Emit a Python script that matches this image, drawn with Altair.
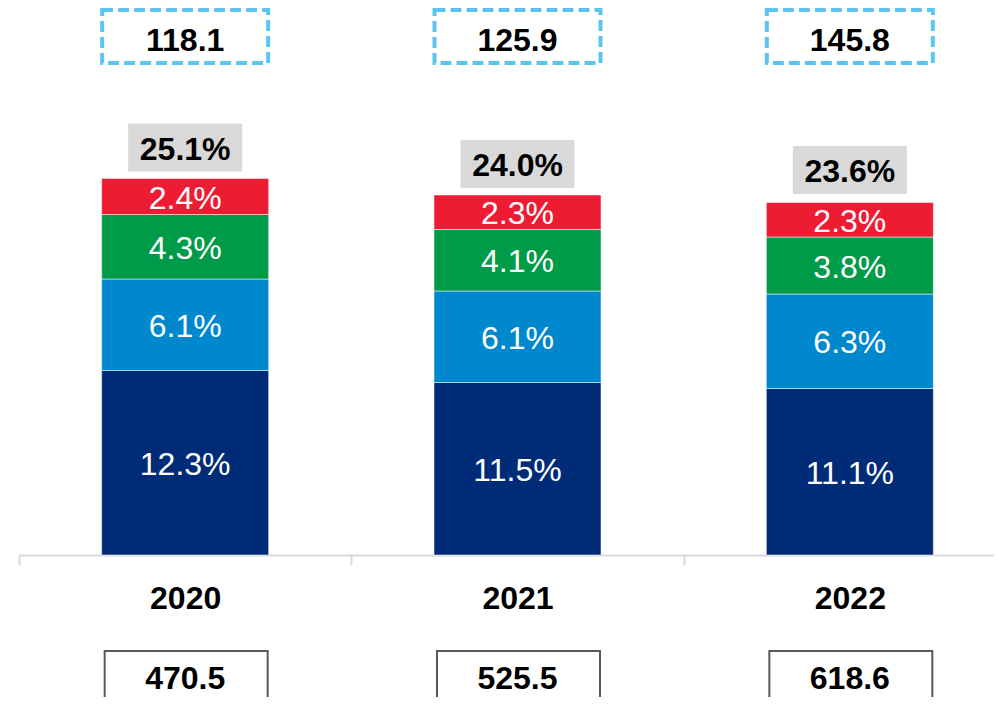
import altair as alt
import pandas as pd

years = ["2020", "2021", "2022"]
segments = ["s1", "s2", "s3", "s4"]  # bottom to top
seg_colors = ["#002C77", "#0088CE", "#009B48", "#EE1C33"]
vals_2020 = [12.3, 6.1, 4.3, 2.4]
vals_2021 = [11.5, 6.1, 4.1, 2.3]
vals_2022 = [11.1, 6.3, 3.8, 2.3]
totals = [25.1, 24.0, 23.6]
top_values = ["118.1", "125.9", "145.8"]
bottom_values = ["470.5", "525.5", "618.6"]

FONT = "Liberation Sans"

rows = []
for yr, vals in zip(years, [vals_2020, vals_2021, vals_2022]):
    base = 0.0
    for seg, v in zip(segments, vals):
        rows.append({"year": yr, "seg": seg, "v": v, "y0": base, "y1": base + v,
                     "mid": base + v / 2, "label": f"{v:.1f}%"})
        base += v
seg_df = pd.DataFrame(rows)

tot_df = pd.DataFrame({
    "year": years,
    "total": totals,
    "tlabel": [f"{t:.1f}%" for t in totals],
    "top": top_values,
    "bottom": bottom_values,
})

x_scale = alt.Scale(domain=years, range=[11, 1008], paddingInner=0, paddingOuter=0)
y_scale = alt.Scale(domain=[0, 547 / 15], nice=False, zero=True)

x_enc = alt.X("year:N", scale=x_scale, title=None, sort=years,
              axis=alt.Axis(labelAngle=0, labelFontSize=32, labelFontWeight="bold",
                            labelFont=FONT, labelColor="#000000", labelPadding=18,
                            domainColor="#D9D9D9", domainWidth=2,
                            tickColor="#D9D9D9", tickWidth=2, tickSize=10,
                            tickBand="extent", grid=False))

bars = alt.Chart(seg_df).mark_bar(size=167, stroke="#FFFFFF", strokeWidth=0.5).encode(
    x=x_enc,
    y=alt.Y("y0:Q", scale=y_scale, axis=None),
    y2="y1:Q",
    color=alt.Color("seg:N", scale=alt.Scale(domain=segments, range=seg_colors), legend=None),
)

seg_text = alt.Chart(seg_df).mark_text(color="white", fontSize=32, font=FONT,
                                       baseline="middle", dy=2).encode(
    x=alt.X("year:N", scale=x_scale, sort=years),
    y=alt.Y("mid:Q", scale=y_scale),
    text="label:N",
)

gray_box = alt.Chart(tot_df).mark_point(
    shape="M-1,-0.421H1V0.421H-1Z", filled=True, fill="#D9D9D9", opacity=1,
    strokeWidth=0, size=114 * 114, yOffset=-31).encode(
    x=alt.X("year:N", scale=x_scale, sort=years),
    y=alt.Y("total:Q", scale=y_scale),
)

tot_text = alt.Chart(tot_df).mark_text(color="black", fontSize=32, fontWeight="bold",
                                       font=FONT, baseline="middle", dy=2, yOffset=-31).encode(
    x=alt.X("year:N", scale=x_scale, sort=years),
    y=alt.Y("total:Q", scale=y_scale),
    text="tlabel:N",
)

dash_box = alt.Chart(tot_df).mark_point(
    shape="M-1,-0.3193H1V0.3193H-1Z", filled=False, stroke="#5BC5F2", strokeWidth=4,
    strokeDash=[11, 5], opacity=1, size=166 * 166).encode(
    x=alt.X("year:N", scale=x_scale, sort=years),
    y=alt.value(28.5),
)

top_text = alt.Chart(tot_df).mark_text(color="black", fontSize=32, fontWeight="bold",
                                       font=FONT, baseline="middle", dy=2).encode(
    x=alt.X("year:N", scale=x_scale, sort=years),
    y=alt.value(31),
    text="top:N",
)

bot_box = alt.Chart(tot_df).mark_point(
    shape="M-1,-0.368H1V0.368H-1Z", filled=False, stroke="#595959", strokeWidth=2,
    opacity=1, size=163 * 163, xOffset=1).encode(
    x=alt.X("year:N", scale=x_scale, sort=years),
    y=alt.value(673),
)

bot_text = alt.Chart(tot_df).mark_text(color="black", fontSize=32, fontWeight="bold",
                                       font=FONT, baseline="middle", dy=2).encode(
    x=alt.X("year:N", scale=x_scale, sort=years),
    y=alt.value(669),
    text="bottom:N",
)

chart = alt.layer(bars, seg_text, gray_box, tot_text, dash_box, top_text, bot_box, bot_text).properties(
    width=986, height=547,
    autosize=alt.AutoSizeParams(type="none"),
    padding={"left": 0, "top": 0, "right": 0, "bottom": 142},
    background="white",
).configure_view(stroke=None)

chart.save("out.html", embed_options={"renderer": "svg", "actions": False})
